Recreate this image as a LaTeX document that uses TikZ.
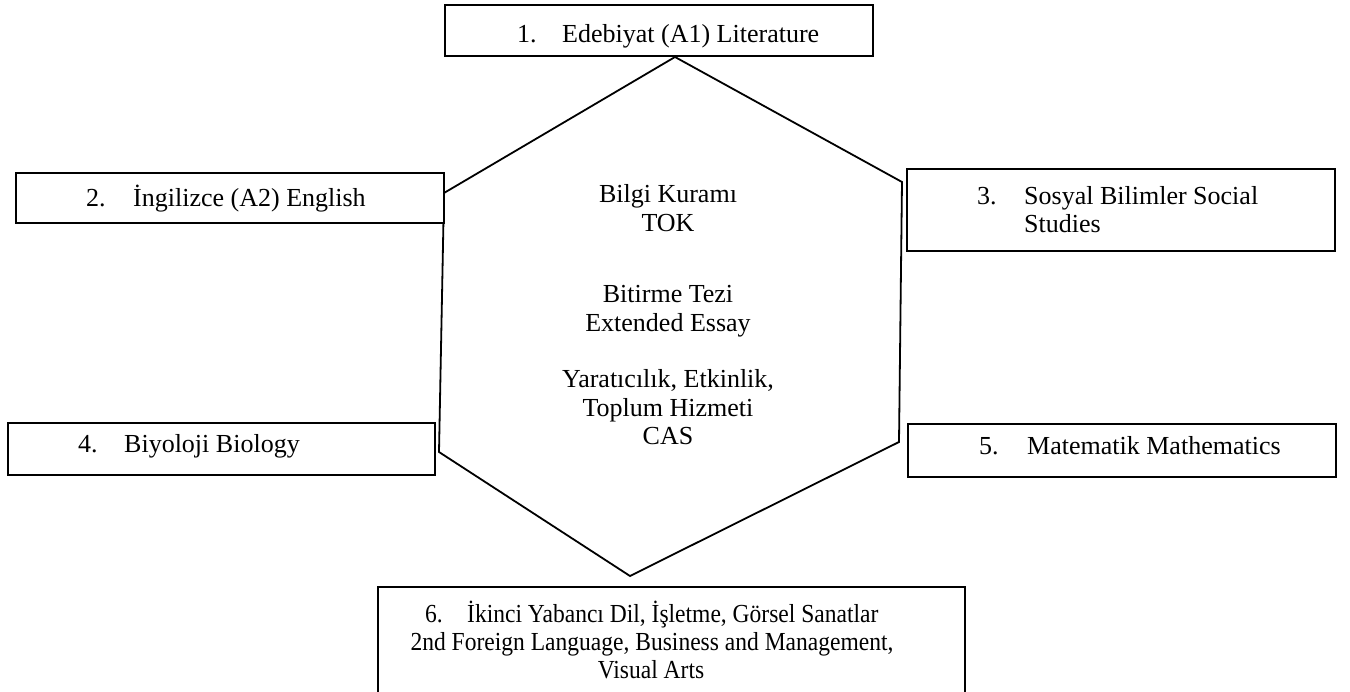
\documentclass[tikz,border=0pt]{standalone}
\usepackage{fontspec}
\setmainfont{Liberation Serif}
\begin{document}
\begin{tikzpicture}[x=1pt,y=-1pt,
  box/.style={draw=black, line width=2pt, fill=white, rectangle, inner sep=0pt},
  lbl/.style={anchor=base west, inner sep=0pt, font=\fontsize{26}{28.5}\selectfont},
  lbls/.style={anchor=base west, inner sep=0pt, font=\fontsize{26}{28.5}\selectfont, xscale=0.905, transform shape},
  hexline/.style={draw=black, line width=1.8pt, line join=miter}]
\useasboundingbox (0,0) rectangle (1350,692);
\clip (0,0) rectangle (1350,692);
\fill[white] (0,0) rectangle (1350,692);
% hexagon
\coordinate (h1) at (675,57);
\coordinate (h2) at (902,182);
\coordinate (h3) at (899,442);
\coordinate (h4) at (630,576);
\coordinate (h5) at (439,452);
\coordinate (h6) at (444,193);
\draw[hexline] (h1) -- (h2) -- (h3) -- (h4) -- (h5) -- (h6) -- cycle;
% boxes
\node[box, minimum width=428pt, minimum height=51pt] (b1) at (659,30.5) {};
\node[box, minimum width=428pt, minimum height=50pt] (b2) at (230,198) {};
\node[box, minimum width=428pt, minimum height=82pt] (b3) at (1121,210) {};
\node[box, minimum width=427pt, minimum height=52pt] (b4) at (221.5,449) {};
\node[box, minimum width=428pt, minimum height=53pt] (b5) at (1122,450.5) {};
\node[box, minimum width=587pt, minimum height=133pt] (b6) at (671.5,653.5) {};
% texts
\node[lbl] (t1n) at (517,43) {1.};
\node[lbl] (t1) at (562,43) {Edebiyat (A1) Literature};
\node[lbl] (t2n) at (86,207) {2.};
\node[lbl] (t2) at (133,207) {İngilizce (A2) English};
\node[lbl] (t3n) at (977,205) {3.};
\node[lbl] (t3) at (1024,205) {Sosyal Bilimler Social};
\node[lbl] (t3b) at (1024,233) {Studies};
\node[lbl] (t4n) at (78,453) {4.};
\node[lbl] (t4) at (124,453) {Biyoloji Biology};
\node[lbl] (t5n) at (979,455) {5.};
\node[lbl] (t5) at (1027,455) {Matematik Mathematics};
\node[lbls] (t6n) at (425,622) {6.};
\node[lbls] (t6) at (467,622) {İkinci Yabancı Dil, İşletme, Görsel Sanatlar};
\node[lbls, anchor=base] (t6b) at (652,650) {2nd Foreign Language, Business and Management,};
\node[lbls, anchor=base] (t6c) at (651,678) {Visual Arts};
% centre
\node[lbl, anchor=base] (c1) at (668,203) {Bilgi Kuramı};
\node[lbl, anchor=base] (c2) at (668,232) {TOK};
\node[lbl, anchor=base] (c3) at (668,303) {Bitirme Tezi};
\node[lbl, anchor=base] (c4) at (668,332) {Extended Essay};
\node[lbl, anchor=base] (c5) at (668,388) {Yaratıcılık, Etkinlik,};
\node[lbl, anchor=base] (c6) at (668,417) {Toplum Hizmeti};
\node[lbl, anchor=base] (c7) at (668,445) {CAS};
\end{tikzpicture}
\end{document}
